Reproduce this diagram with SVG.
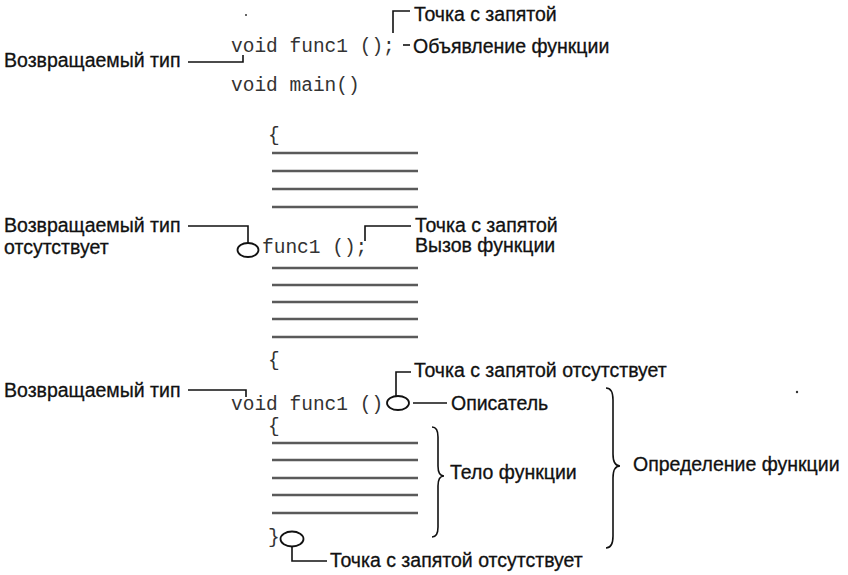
<svg xmlns="http://www.w3.org/2000/svg" width="848" height="575" viewBox="0 0 848 575">
<style>
.lbl{font-family:"Liberation Sans",Arial,sans-serif;font-size:19.5px;fill:#111;stroke:#111;stroke-width:0.3}
.code{font-family:"Liberation Mono","Courier New",monospace;font-size:19.5px;fill:#333}
.ln{fill:none;stroke:#111;stroke-width:1.6}
.scr{stroke:#5a5a5a;stroke-width:2.4}
.ell{fill:none;stroke:#111;stroke-width:1.8}
</style>
<rect width="848" height="575" fill="#fff"/>
<circle cx="246" cy="15" r="1" fill="#333"/>
<circle cx="797" cy="392" r="1.2" fill="#333"/>

<g id="decl">
<text class="code" x="231" y="52">void func1 ();</text>
<text class="code" x="231" y="91">void main()</text>
</g>
<g id="lbl-semicolon-1"><text class="lbl" x="414" y="21">Точка с запятой</text></g>
<g id="lbl-decl"><text class="lbl" x="413" y="53">Объявление функции</text></g>
<g id="lbl-rettype-1"><text class="lbl" x="4" y="67">Возвращаемый тип</text></g>

<g id="main-body">
<text class="code" x="268" y="141">{</text>
<g>
<line class="scr" x1="272" y1="153" x2="418" y2="153"/>
<line class="scr" x1="272" y1="171" x2="418" y2="171"/>
<line class="scr" x1="272" y1="189" x2="418" y2="189"/>
<line class="scr" x1="272" y1="207" x2="418" y2="207"/>
</g>
<ellipse class="ell" cx="248" cy="250" rx="10.5" ry="7"/>
<text class="code" x="262" y="253">func1 ();</text>
<g>
<line class="scr" x1="272" y1="268" x2="418" y2="268"/>
<line class="scr" x1="272" y1="285" x2="418" y2="285"/>
<line class="scr" x1="272" y1="302" x2="418" y2="302"/>
<line class="scr" x1="272" y1="319" x2="418" y2="319"/>
<line class="scr" x1="272" y1="337" x2="418" y2="337"/>
</g>
<text class="code" x="268" y="366">{</text>
</g>
<g id="lbl-rettype-2"><text class="lbl" x="4" y="232">Возвращаемый тип</text><text class="lbl" x="4" y="254">отсутствует</text></g>
<g id="lbl-semicolon-2"><text class="lbl" x="415" y="232">Точка с запятой</text></g>
<g id="lbl-call"><text class="lbl" x="415" y="252">Вызов функции</text></g>

<g id="def">
<text class="code" x="231" y="410">void func1 ()</text>
<ellipse class="ell" cx="398" cy="403" rx="11" ry="7"/>
<text class="code" x="268" y="432">{</text>
<g>
<line class="scr" x1="272" y1="443" x2="418" y2="443"/>
<line class="scr" x1="272" y1="460" x2="418" y2="460"/>
<line class="scr" x1="272" y1="478" x2="418" y2="478"/>
<line class="scr" x1="272" y1="495" x2="418" y2="495"/>
<line class="scr" x1="272" y1="513" x2="418" y2="513"/>
</g>
<text class="code" x="268" y="543">}</text>
<ellipse class="ell" cx="292" cy="539" rx="11.5" ry="7.5"/>
</g>
<g id="lbl-rettype-3"><text class="lbl" x="4" y="397">Возвращаемый тип</text></g>
<g id="lbl-semicolon-3"><text class="lbl" x="414" y="377">Точка с запятой отсутствует</text></g>
<g id="lbl-declarator"><text class="lbl" x="451" y="410">Описатель</text></g>
<g id="lbl-body"><text class="lbl" x="450" y="479">Тело функции</text></g>
<g id="lbl-definition"><text class="lbl" x="633" y="471">Определение функции</text></g>
<g id="lbl-semicolon-4"><text class="lbl" x="330" y="567">Точка с запятой отсутствует</text></g>

<g id="connectors">
<path class="ln" d="M393,33 V11 H410"/>
<path class="ln" d="M403,45 H410"/>
<path class="ln" d="M188,62 H243 V55"/>
<path class="ln" d="M188,226 H248 V243"/>
<path class="ln" d="M365,241 V226 H411"/>
<path class="ln" d="M188,390 H246 V397"/>
<path class="ln" d="M396,396 V372 H411"/>
<path class="ln" d="M413,403 H447"/>
<path class="ln" d="M292,547 V561 H327"/>
<path class="ln" d="M432,427 Q438,427 438,437 L438,466 Q438,476 444,476 Q438,476 438,486 L438,527 Q438,537 432,537"/>
<path class="ln" d="M606,388 Q613,388 613,400 L613,454 Q613,466 620,466 Q613,466 613,478 L613,536 Q613,548 606,548"/>
</g>
</svg>
